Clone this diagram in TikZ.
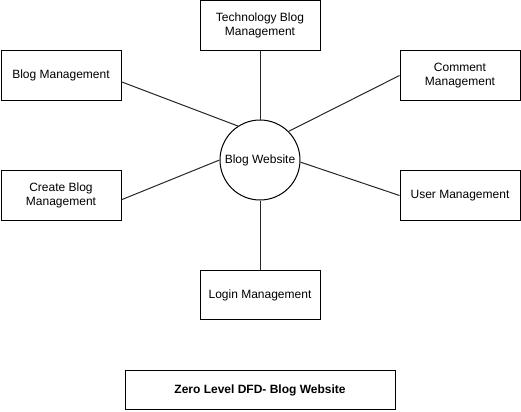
\documentclass[tikz,border=0pt]{standalone}
\usepackage{fontspec}
\setmainfont{Liberation Sans}
\usepackage{tikz}

\tikzset{
  procbox/.style={draw, line width=0.75pt, minimum width=90pt, minimum height=37pt, inner sep=1pt, align=center, font=\fontsize{9}{11}\selectfont},
  proccircle/.style={draw, circle, line width=0.75pt, minimum size=60pt, inner sep=0pt, font=\fontsize{9}{11}\selectfont},
  flowline/.style={line width=0.75pt, black!85}
}

\begin{document}
\begin{tikzpicture}[x=0.75pt,y=-0.75pt]

\useasboundingbox (0,0) rectangle (521,411);

% center process
\node[proccircle] (web) at (260,160) {Blog Website};

% surrounding processes
\node[procbox] (tech) at (260,25.5) {Technology Blog\\Management};
\node[procbox] (blogm) at (61,75.5) {Blog Management};
\node[procbox] (comm) at (460,75.5) {Comment\\Management};
\node[procbox] (create) at (61,195.5) {Create Blog\\Management};
\node[procbox] (user) at (460,195.5) {User Management};
\node[procbox] (login) at (260,295) {Login Management};

% links
\draw[flowline] (tech.south) -- (web.north);
\draw[flowline] (blogm.-6.6) -- (web.123);
\draw[flowline] (comm.west) -- (web.45);
\draw[flowline] (create.-4.3) -- (web.west);
\draw[flowline] (user.west) -- (web.-3);
\draw[flowline] (web.south) -- (login.north);

% caption
\node[procbox, minimum width=202.5pt, minimum height=29.5pt, font=\fontsize{9}{11}\selectfont\bfseries] (caption) at (260,390) {Zero Level DFD- Blog Website};

\end{tikzpicture}
\end{document}
